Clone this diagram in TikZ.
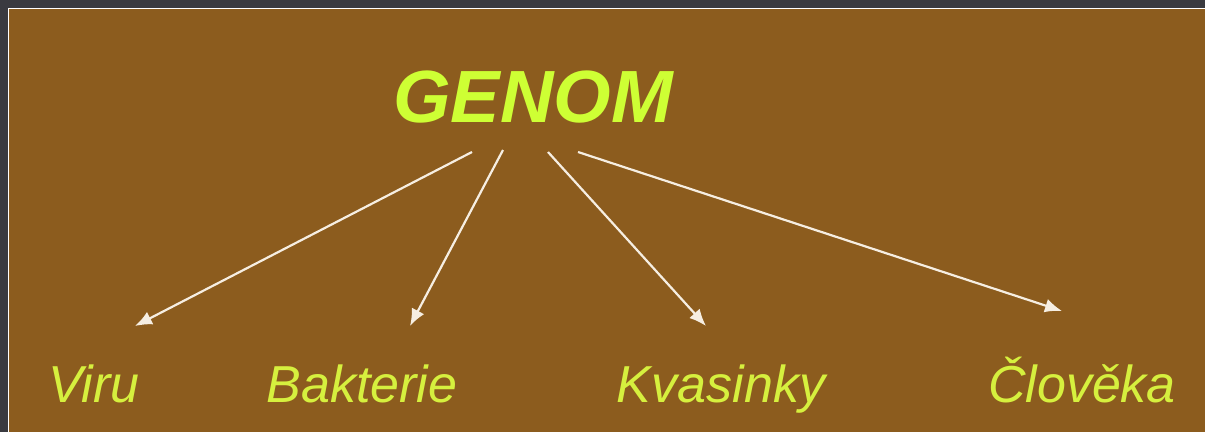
\documentclass[tikz,border=0pt]{standalone}
\usepackage{fontspec}
\setmainfont{Liberation Sans}
\usetikzlibrary{arrows.meta}
\definecolor{frame}{RGB}{58,58,64}
\definecolor{cloth}{RGB}{140,92,30}
\definecolor{lime}{RGB}{206,255,52}
\definecolor{leaf}{RGB}{214,240,62}
\definecolor{chalk}{RGB}{246,238,226}
\tikzset{
	title/.style = {anchor=base, text=lime, font=\fontsize{74}{74}\selectfont\bfseries\itshape},
	label/.style = {anchor=base, text=leaf, font=\fontsize{52}{52}\selectfont\itshape},
	branch/.style = {draw=chalk, line width=2.2pt, -{Latex[length=17pt,width=14pt]}}
}
\begin{document}
\begin{tikzpicture}[x=1pt,y=-1pt]
	\useasboundingbox (0,0) rectangle (1205,432);
	\fill[frame] (0,0) rectangle (1205,432);
	\fill[cloth] (9,9) rectangle (1205,432);
	\draw[white, line width=1pt] (8.5,432) -- (8.5,8.5) -- (1205,8.5);
	\node (genom)		at ( 533, 122)	[title]	{GENOM};
	\node (viru)		at (  94, 402)	[label]	{Viru};
	\node (bakterie)	at ( 362, 402)	[label]	{Bakterie};
	\node (kvasinky)	at ( 721, 402)	[label]	{Kvasinky};
	\node (clovek)		at (1082, 402)	[label]	{Člověka};
	\coordinate (g1) at (472, 152);
	\coordinate (g2) at (503, 150);
	\coordinate (g3) at (548, 152);
	\coordinate (g4) at (578, 152);
	\coordinate (v) at (135, 326);
	\coordinate (b) at (410, 326);
	\coordinate (k) at (706, 326);
	\coordinate (c) at (1062, 311);
	\draw[branch] (g1) -- (v);
	\draw[branch] (g2) -- (b);
	\draw[branch] (g3) -- (k);
	\draw[branch] (g4) -- (c);
\end{tikzpicture}
\end{document}
